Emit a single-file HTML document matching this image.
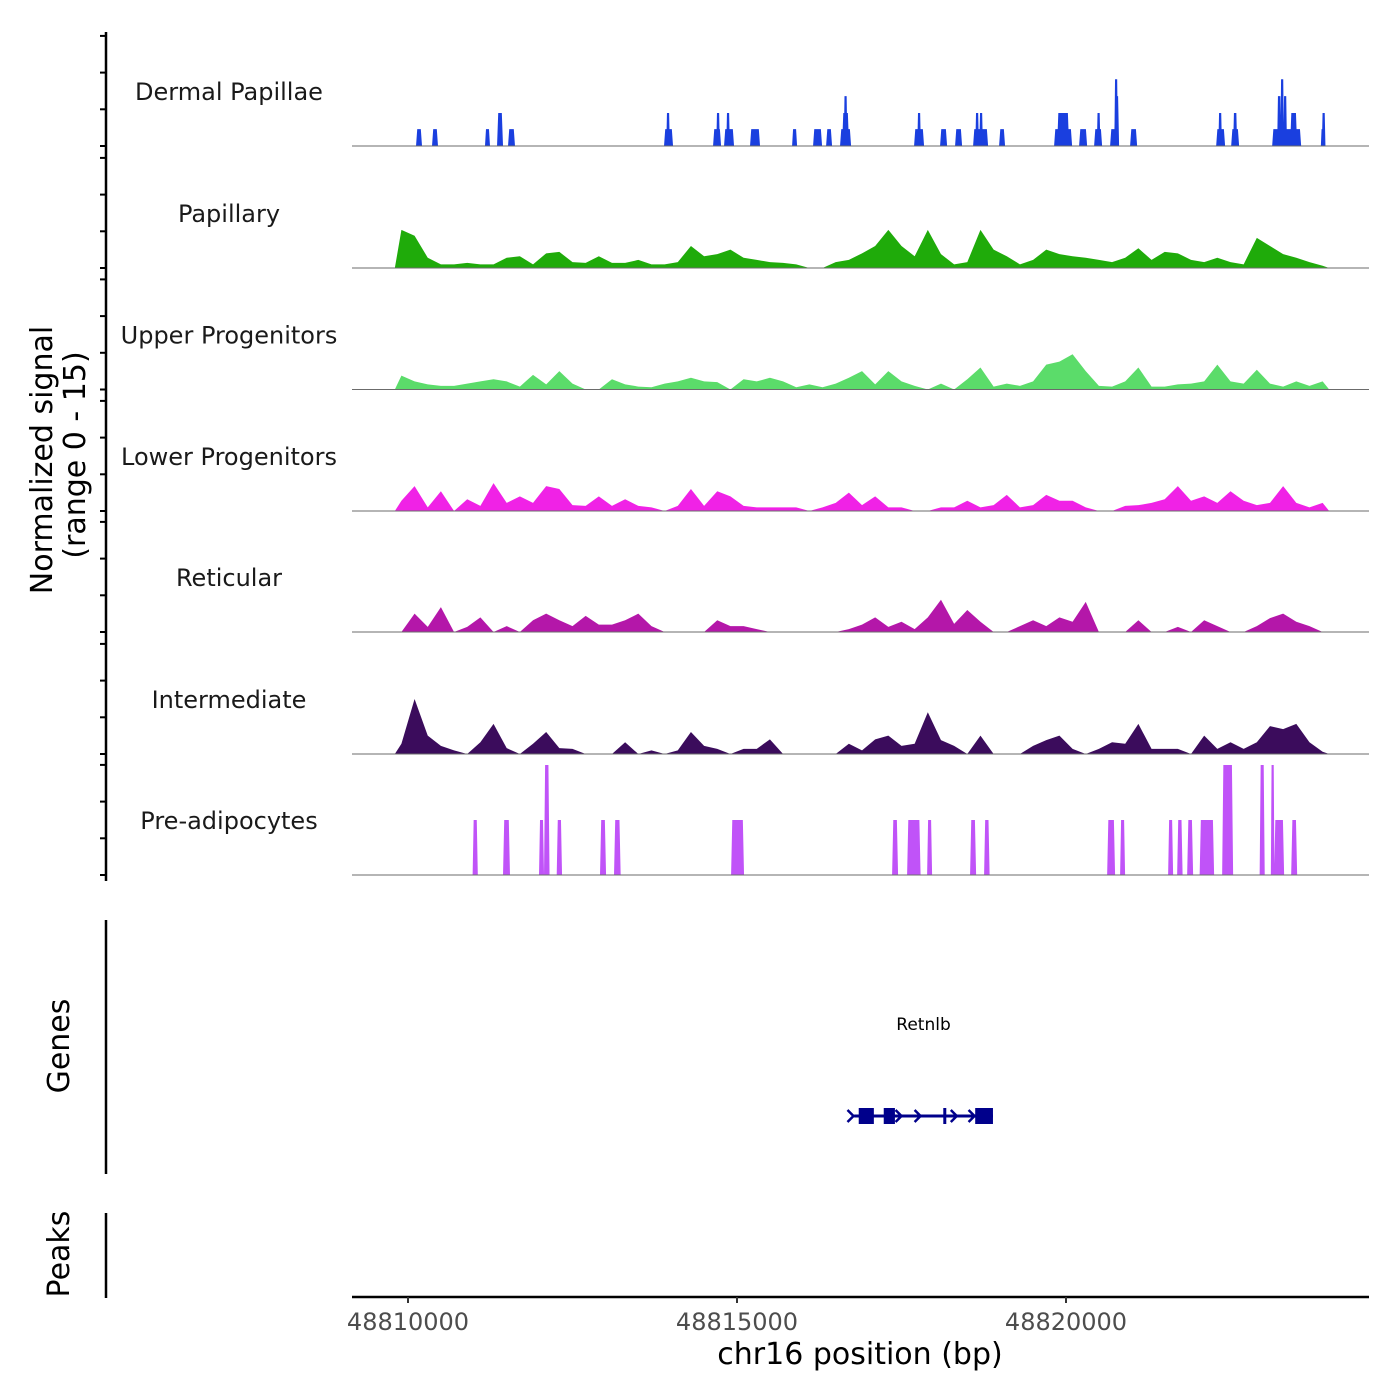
<!DOCTYPE html>
<html><head><meta charset="utf-8"><title>Coverage tracks</title>
<style>
html,body{margin:0;padding:0;background:#fff;}
svg{display:block;font-family:"DejaVu Sans","Liberation Sans",sans-serif;}
</style></head>
<body>
<svg id="chart" width="1400" height="1400" viewBox="0 0 1400 1400" xmlns="http://www.w3.org/2000/svg">
  <rect x="0" y="0" width="1400" height="1400" fill="#fff"/>
  <g id="tracks"></g>
  <g id="yaxis">
    <line x1="106" y1="32" x2="106" y2="881" stroke="#000" stroke-width="2.5"/>
  </g>
  <text transform="translate(52,460) rotate(-90)" text-anchor="middle" font-size="30" fill="#000">Normalized signal</text>
  <text transform="translate(85,455) rotate(-90)" text-anchor="middle" font-size="30" fill="#000">(range 0 - 15)</text>
  <line x1="106" y1="920" x2="106" y2="1174" stroke="#000" stroke-width="2.5"/>
  <text transform="translate(69,1046) rotate(-90)" text-anchor="middle" font-size="30" fill="#000">Genes</text>
  <line x1="106" y1="1213" x2="106" y2="1298" stroke="#000" stroke-width="2.5"/>
  <text transform="translate(69,1254) rotate(-90)" text-anchor="middle" font-size="30" fill="#000">Peaks</text>
  <g id="genes"></g>
  <g id="xaxis">
    <line x1="352" y1="1297" x2="1369" y2="1297" stroke="#000" stroke-width="2.5"/>
  </g>
  <text x="860" y="1364" text-anchor="middle" font-size="30" fill="#000">chr16 position (bp)</text>
</svg>
<script>
// ---- data (positions are bp offsets from 48810000; signal in 0-15 units) ----
const REGION_ORIGIN = 48810000;
const xTicks = [48810000, 48815000, 48820000];
const xTickLabels = ["48810000", "48815000", "48820000"];
const trackNames = ["Dermal Papillae","Papillary","Upper Progenitors","Lower Progenitors","Reticular","Intermediate","Pre-adipocytes"];
const trackColors = ["#1a3fdf","#1fab0a","#5bdc6a","#f022e6","#b417a9","#3b0c5c","#c053f8"];
const binStart = -200, binSize = 200;
// Dermal Papillae segments: start, end, value
const dermalStart = [122,365,1170,1353,1520,3891,3937,4636,4697,4803,4849,5198,5837,6156,6354,6566,6597,6627,7691,7752,8086,8314,8588,8634,8694,8983,9819,9865,10199,10427,10473,10670,10731,10746,10974,12282,12327,12510,12540,13133,13209,13270,13315,13406,13878,13908];
const dermalEnd   = [213,456,1246,1444,1626,4028,3967,4758,4727,4955,4879,5350,5913,6293,6445,6734,6703,6673,7843,7782,8193,8421,8816,8664,8725,9074,10093,10047,10321,10549,10518,10807,10807,10777,11081,12418,12358,12631,12601,13574,13270,13300,13346,13513,13923,13923];
const dermalValue = [2.3,2.3,2.3,4.5,2.3,2.3,4.5,2.3,4.5,2.3,4.5,2.3,2.3,2.3,2.3,2.3,4.5,6.8,2.3,4.5,2.3,2.3,2.3,4.5,4.5,2.3,2.3,4.5,2.3,2.3,4.5,2.3,6.8,9.1,2.3,2.3,4.5,2.3,4.5,2.3,6.8,9.1,6.8,4.5,2.3,4.5];
// Binned tracks (200 bp bins)
const papillaryBins = [5.2,4.4,1.4,0.5,0.5,0.7,0.5,0.5,1.4,1.6, 0.5,2,2.2,0.8,0.7,1.6,0.7,0.7,1.1,0.5, 0.5,0.8,3,1.6,1.9,2.5,1.4,1.1,0.8,0.7, 0.5,0,0,0.8,1.1,2,3,5.2,3,1.6, 5.2,1.9,0.5,0.8,5.2,2.5,1.6,0.5,1.1,2.5, 1.9,1.6,1.4,1.1,0.8,1.4,2.7,1.1,2.2,2, 1.1,0.8,1.4,0.8,0.5,4.1,3,1.9,1.4,0.8,0.3];
const upperBins = [1.9,1.1,0.7,0.5,0.5,0.8,1.1,1.4,1.1,0.4, 2,0.7,2.5,0.8,0,0,1.4,0.7,0.4,0.3, 0.8,1.1,1.6,1.1,1,0,1.4,1.1,1.6,1.1, 0.3,0.7,0.3,0.8,1.6,2.5,0.7,2.5,1.1,0.5, 0,0.8,0,1.4,3,0.4,0.8,0.5,1.1,3.4, 3.8,4.8,2.5,0.5,0.4,1.1,3,0.4,0.4,0.7, 0.8,1.1,3.4,1.1,0.8,2.7,0.8,0.4,1.1,0.5,1.1];
const lowerBins = [1.4,3.4,0.5,2.7,0,1.6,0.7,3.8,1.1,2, 1.1,3.4,3,0.8,0.7,2,0.7,1.6,0.7,0.5, 0,0.7,3,0.7,2.7,2,0.7,0.5,0.5,0.5, 0.5,0,0.5,1.1,2.5,0.8,2,0.5,0.5,0, 0,0.5,0.5,1.4,0.5,0.8,2.2,0.5,0.8,2.2, 1.4,1.4,0.5,0,0,0.7,0.8,1.1,1.6,3.4, 1.4,2,1.1,2.7,1.4,0.8,1.1,3.4,1.1,0.5,1.1];
const reticularBins = [0,2.5,0.7,3.4,0,0.7,2,0,0.8,0, 1.6,2.5,1.6,0.8,2.2,1,1,1.6,2.5,0.8, 0,0,0,0,1.6,0.8,0.8,0.4,0,0, 0,0,0,0,0.4,1,2,0.7,1.4,0.4, 2,4.4,1.1,3,1.4,0,0,0.8,1.6,0.8, 2,1.4,4.1,0,0,0,1.6,0,0,0.7, 0,1.6,0.8,0,0,0.8,1.9,2.5,1.4,0.8,0];
const intermediateBins = [1.4,7.5,2.5,1.1,0.5,0,1.6,4.1,0.8,0, 1.4,3,0.8,0.7,0,0,0,1.6,0,0.5, 0,0.5,3,1.1,0.7,0,0.7,0.7,2,0, 0,0,0,0,1.4,0.5,2,2.5,1.1,1.4, 5.7,1.9,1.1,0,2.5,0,0,0,1.1,1.9, 2.5,0.7,0,0.7,1.6,1.4,4.1,0.7,0.7,0.7, 0,2.5,0.7,1.6,0.7,1.6,3.8,3.4,4.1,1.6,0.3];
// Pre-adipocytes segments
const preStart = [982,1444,1991,2067,2260,2918,3131,4910,7357,7585,7889,8542,8755,10625,10822,11552,11689,11841,12031,12373,12943,13118,13163,13422];
const preEnd   = [1061,1550,2067,2151,2341,3010,3232,5107,7448,7790,7965,8634,8839,10746,10898,11628,11772,11932,12251,12540,13020,13163,13315,13513];
const preValue = [7.5,7.5,7.5,15,7.5,7.5,7.5,7.5,7.5,7.5,7.5,7.5,7.5,7.5,7.5,7.5,7.5,7.5,7.5,15,15,15,7.5,7.5];
// Gene Retnlb
const geneName = "Retnlb";
const geneStart = 6780, geneEnd = 8890;
const exonStart = [6850, 7230, 8135, 8620];
const exonEnd   = [7080, 7400, 8165, 8890];
const arrowPos = [6740, 7470, 7760, 8310, 8580];

// ---- scales ----
const X0 = 408, PX_PER_BP = 329/5000;
function xs(off){ return X0 + off*PX_PER_BP; }
function xsAbs(bp){ return xs(bp - REGION_ORIGIN); }
const baselines = [146, 268, 389.5, 511, 632, 754, 875];
const PX_PER_UNIT = 110/15;
function ys(track, v){ return baselines[track] - v*PX_PER_UNIT; }

const NS = "http://www.w3.org/2000/svg";
const tracksG = document.getElementById('tracks');
const yaxisG = document.getElementById('yaxis');
function mk(tag, attrs, parent){
  const e = document.createElementNS(NS, tag);
  for (const k in attrs) e.setAttribute(k, attrs[k]);
  parent.appendChild(e); return e;
}

function segPath(track, starts, ends, vals){
  let d = "";
  for (let i=0;i<starts.length;i++){
    let a = xs(starts[i]), b = xs(ends[i]);
    if (b - a < 3.6){ const c=(a+b)/2; a = c-1.8; b = c+1.8; }
    const t = ys(track, vals[i]), base = baselines[track];
    const s = Math.min(1.2, (b-a)/5);
    d += `M${a.toFixed(2)},${base}L${(a+s).toFixed(2)},${t.toFixed(2)}L${(b-s).toFixed(2)},${t.toFixed(2)}L${b.toFixed(2)},${base}Z`;
  }
  return d;
}
function binPath(track, bins){
  const base = baselines[track];
  let d = `M${xs(binStart).toFixed(2)},${base}`;
  for (let i=0;i<bins.length;i++){
    const c = binStart + binSize*(i+0.5);
    d += `L${xs(c).toFixed(2)},${ys(track, bins[i]).toFixed(2)}`;
  }
  d += `L${xs(binStart + binSize*bins.length).toFixed(2)},${base}Z`;
  return d;
}

const trackPaths = [
  segPath(0, dermalStart, dermalEnd, dermalValue),
  binPath(1, papillaryBins),
  binPath(2, upperBins),
  binPath(3, lowerBins),
  binPath(4, reticularBins),
  binPath(5, intermediateBins),
  segPath(6, preStart, preEnd, preValue)
];
const trackIds = ["dermal-papillae","papillary","upper-progenitors","lower-progenitors","reticular","intermediate","pre-adipocytes"];

for (let t=0;t<7;t++){
  const g = mk('g', {}, tracksG);
  
  
  const p = mk('path', {d: trackPaths[t], fill: trackColors[t], stroke: 'none'}, g);
  
  
  const bl = mk('line', {x1: 352, x2: 1369, y1: baselines[t], y2: baselines[t], stroke: '#6b6b6b', 'stroke-width': 1}, g);
  
  
  const lab = mk('text', {x: 229, y: baselines[t]-46, 'text-anchor': 'middle', 'font-size': 24, fill: '#1a1a1a'}, g);
  lab.textContent = trackNames[t];
  
  
  for (let k=0;k<4;k++){
    const yy = baselines[t] - k*36.7;
    const tk = mk('line', {x1: 100, x2: 106, y1: yy, y2: yy, stroke: '#000', 'stroke-width': 2}, yaxisG);
    
    
  }
}

// gene track
const gg = document.getElementById('genes');
const gy = 1116;
const gl = mk('line', {x1: xs(geneStart), x2: xs(geneEnd), y1: gy, y2: gy, stroke: '#00008b', 'stroke-width': 3}, gg);


for (let i=0;i<exonStart.length;i++){
  const a = xs(exonStart[i]), b = xs(exonEnd[i]);
  const w = Math.max(b-a, 3);
  const r = mk('rect', {x: a, y: gy-8, width: w, height: 16, fill: '#00008b'}, gg);
  
  
}
for (let i=0;i<arrowPos.length;i++){
  const x = xs(arrowPos[i]);
  const a = mk('path', {d: `M${x-4},${gy-6}L${x+2},${gy}L${x-4},${gy+6}`, fill: 'none', stroke: '#00008b', 'stroke-width': 2.5}, gg);
  
  
}
const gt = mk('text', {x: xs((geneStart+geneEnd)/2), y: 1030, 'text-anchor': 'middle', 'font-size': 17, fill: '#000'}, gg);
gt.textContent = geneName;



// x axis ticks
const xg = document.getElementById('xaxis');
for (let i=0;i<xTicks.length;i++){
  const x = xsAbs(xTicks[i]);
  const tk = mk('line', {x1: x, x2: x, y1: 1297, y2: 1303, stroke: '#333', 'stroke-width': 2}, xg);
  
  
  const tl = mk('text', {x: x, y: 1330, 'text-anchor': 'middle', 'font-size': 24, fill: '#4d4d4d'}, xg);
  tl.textContent = xTickLabels[i];
  
  
}
</script>
</body></html>
